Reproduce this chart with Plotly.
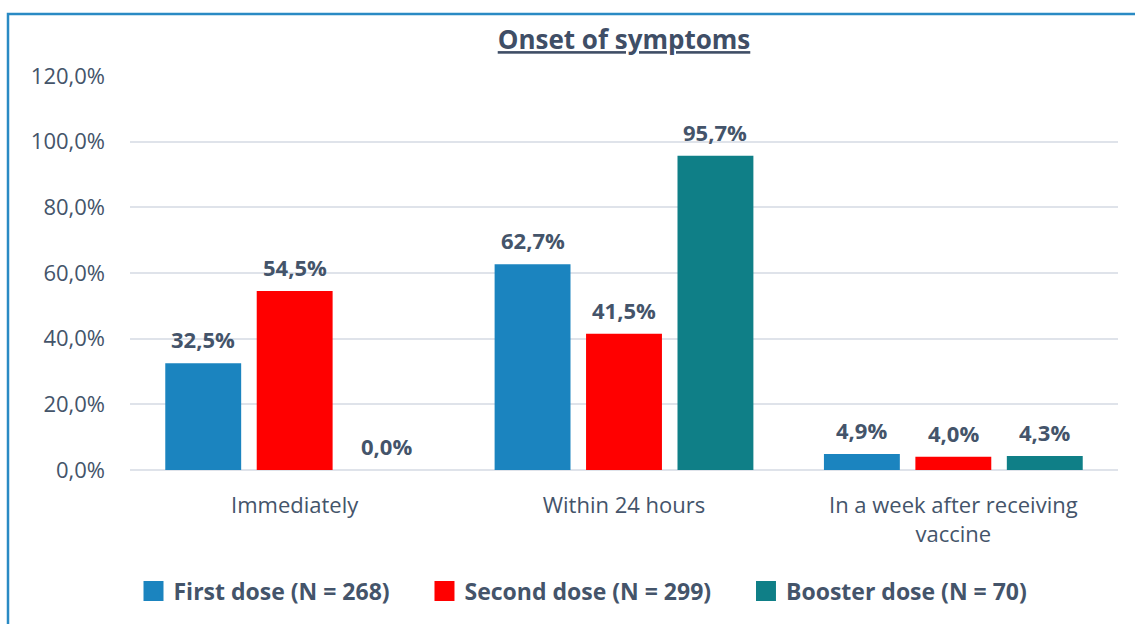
import plotly.graph_objects as go

categories = ["Immediately", "Within 24 hours", "In a week after receiving<br>vaccine"]
series_names = ["First dose (N = 268)", "Second dose (N = 299)", "Booster dose (N = 70)"]
first_dose = [32.5, 62.7, 4.9]
second_dose = [54.5, 41.5, 4.0]
booster_dose = [0.0, 95.7, 4.3]
series_values = [first_dose, second_dose, booster_dose]
colors = ["#1b84bf", "#ff0000", "#0f7f87"]
tick_vals = [0, 20, 40, 60, 80, 100, 120]
tick_text = ["0,0%", "20,0%", "40,0%", "60,0%", "80,0%", "100,0%", "120,0%"]

TXT = "#44546a"
FONT = "Open Sans, Noto Sans, sans-serif"
bargap = 0.167
NBSP = "&nbsp;" * 5

fig = go.Figure()
for name, vals, col in zip(series_names, series_values, colors):
    fig.add_trace(go.Bar(
        x=categories, y=vals, name=name, marker=dict(color=col, line_width=0),
        hoverinfo="skip", showlegend=False,
    ))
# legend entries with larger square symbols
for k, (name, col) in enumerate(zip(series_names, colors)):
    pad = NBSP if k < len(series_names) - 1 else ""
    fig.add_trace(go.Scatter(
        x=[None], y=[None], mode="markers", name="<b>" + name + "</b>" + pad,
        marker=dict(symbol="square", size=16, color=col, line=dict(color=col, width=4)),
        hoverinfo="skip",
    ))

slot = (1 - bargap) / len(series_values)
annotations = []
for j, vals in enumerate(series_values):
    for i, v in enumerate(vals):
        annotations.append(dict(
            x=i + (j - 1) * slot, y=v, xref="x", yref="y",
            text="<b>" + f"{v:.1f}".replace(".", ",") + "%</b>",
            showarrow=False, yshift=24, yanchor="middle",
            font=dict(size=22, color=TXT, family=FONT),
        ))

fig.update_layout(
    width=1135, height=624,
    margin=dict(l=130, r=17, t=76, b=154),
    paper_bgcolor="white", plot_bgcolor="white",
    barmode="group", bargap=bargap, bargroupgap=0.17,
    font=dict(family=FONT, color=TXT, size=22),
    title=dict(text="<b><u>Onset of symptoms</u></b>", x=0.5, xref="paper",
               y=1 - 40 / 624, yref="container", yanchor="middle",
               font=dict(size=26, color="#3f4e66", family=FONT)),
    xaxis=dict(showgrid=False, showline=False, ticks="", tickfont=dict(size=22, color=TXT),
               ticklabelstandoff=20),
    yaxis=dict(range=[0, 120], tickvals=tick_vals, ticktext=tick_text, showgrid=True,
               gridcolor="#dfe3ea", gridwidth=2, zeroline=True, zerolinecolor="#dfe3ea",
               zerolinewidth=2, showline=False, ticks="", ticklen=0,
               tickfont=dict(size=22, color=TXT), ticklabelstandoff=24),
    legend=dict(orientation="h", x=583 / 1135, xref="container", xanchor="center",
                y=(624 - 591) / 624, yref="container", yanchor="middle",
                font=dict(size=23, color=TXT, family=FONT), itemwidth=30,
                traceorder="normal", itemclick=False, itemsizing="trace"),
    annotations=annotations,
    shapes=[dict(type="rect", xref="paper", yref="paper",
                 x0=(8 - 130) / 988, x1=1.1, y0=-0.6, y1=(470 - 14) / 394,
                 line=dict(color="#2a8ac4", width=2.5), fillcolor="rgba(0,0,0,0)", layer="below")],
)

fig.write_html("out.html", config={"displayModeBar": False},
               post_script="document.body.style.margin='0';document.body.style.padding='0';")
